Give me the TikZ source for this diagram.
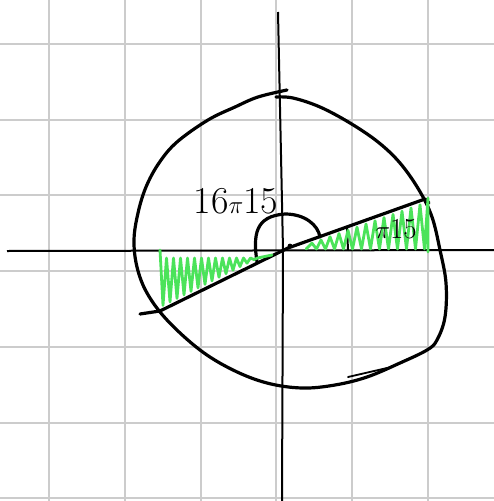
\documentclass[tikz,border=0pt]{standalone}
\usepackage{tikz}
\usetikzlibrary{positioning}
\definecolor{gridgray}{HTML}{CCCCCC}
\definecolor{hatchgreen}{HTML}{4BE35A}

\begin{document}
\begin{tikzpicture}[
    x=1pt, y=-1pt,
    gridline/.style={draw=gridgray, line width=2pt},
    axis/.style={draw=black, line width=2pt},
    ink/.style={draw=black, line width=3.2pt, line cap=round, line join=round},
    hatch/.style={draw=hatchgreen, line width=2.8pt, line cap=round, line join=round},
    anglelabel/.style={inner sep=0pt, font=\fontsize{38}{38}\selectfont}
]
    \useasboundingbox[fill=white] (0,0) rectangle (494,501);
    \foreach \gx in {49,124.8,200.6,276.4,352.2,428}
        \draw[gridline] (\gx,0) -- (\gx,501);
    \foreach \gy in {44,119.7,195.4,271.1,346.8,422.5,498.2}
        \draw[gridline] (0,\gy) -- (494,\gy);

    \coordinate (xleft) at (7,251);
    \coordinate (xright) at (494,250);
    \coordinate (ytop) at (278,12);
    \coordinate (ymid) at (283,250);
    \coordinate (ybottom) at (282,501);
    \draw[axis] (xleft) -- (xright);
    \draw[axis] (ytop) -- (ymid) -- (ybottom);

    \draw[ink] plot[smooth, tension=0.6] coordinates {
        (287,90) (258,97) (235,107) (208,120) (177,142) (159,163) (146,187)
        (138,213) (134,240) (137,267) (147,293) (167,320) (200,350) (233,370)
        (267,383) (302,388) (335,385) (367,377) (400,363) (427,350) (437,340)
        (445,317) (446,283) (440,250) (432,217) (419,190) (400,163) (378,142)
        (350,123) (320,107) (293,98) (276,97)};
    \coordinate (botA) at (348,377);
    \coordinate (botB) at (387,368);
    \draw[ink, line width=1.8pt] (botA) -- (botB);

    \coordinate (O) at (288,248);
    \coordinate (tail) at (140,314);
    \coordinate (lowleft) at (160,311);
    \coordinate (upright) at (425,199);
    \draw[ink] (tail) -- (lowleft) -- (O) -- (upright) -- ++(4,4);
    \fill (290,246) circle (2.4pt);

    \draw[ink] (257,262) .. controls (253,235) and (255,216) .. (285,214)
        .. controls (305,214) and (318,225) .. (320,237);
    \coordinate (tickA) at (347,227);
    \coordinate (tickB) at (348,250);
    \draw[ink, line width=2pt] (tickA) -- (tickB);

    \draw[hatch] (160,250) foreach \x in {163,170,...,258} {
        -- (\x,{307-0.504*(\x-160)}) -- ({\x+3.5},258) } -- (272,255);
    \draw[hatch] (306,249) foreach \x in {312,321,...,420} {
        -- (\x,{251-0.356*(\x-290)}) -- ({\x+4.5},249) } -- (428,198) -- (428,252);

    \node[anglelabel] (bigangle) at (236,201) {16$\pi$15};
    \node[anglelabel, font=\fontsize{29}{29}\selectfont] (smallangle) at (396,229) {$\pi$15};
\end{tikzpicture}
\end{document}
